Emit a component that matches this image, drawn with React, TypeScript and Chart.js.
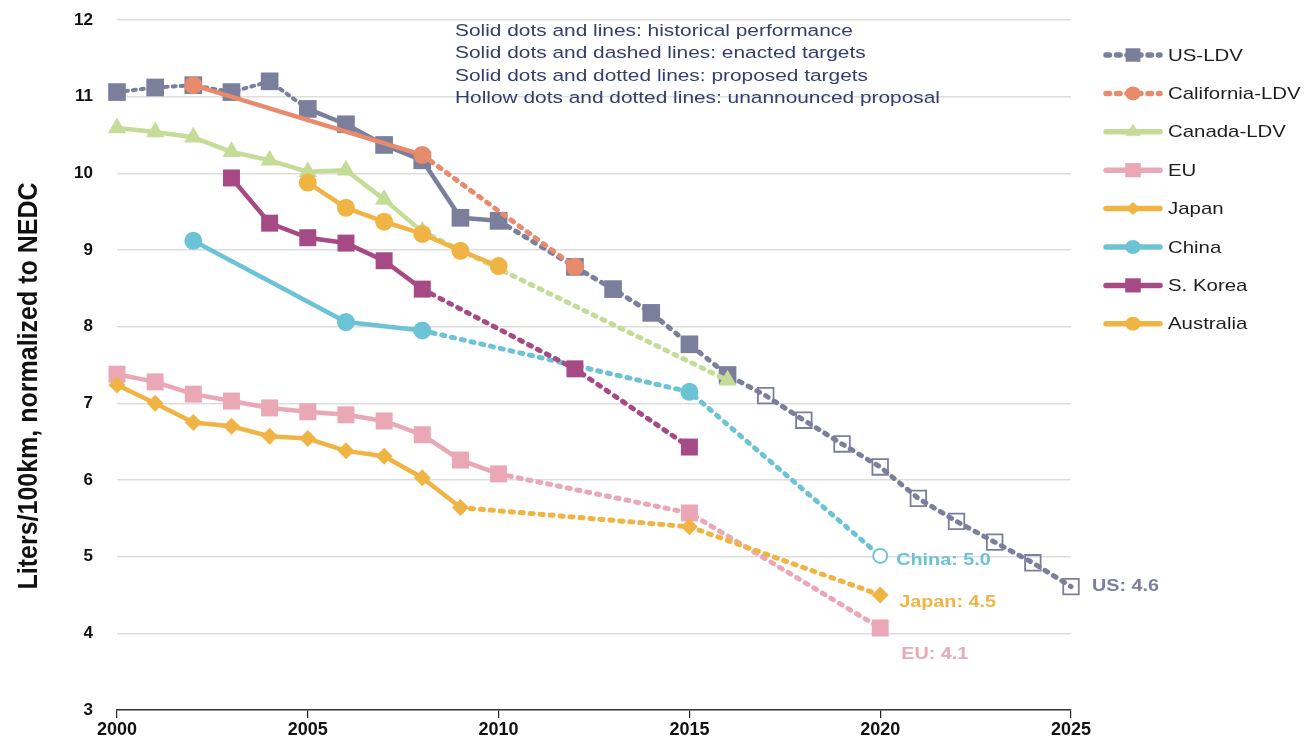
import React, { useEffect, useRef } from 'react';
import { Chart, registerables } from 'chart.js';

Chart.register(...registerables);

// ---------- data ----------
const usYears = [2000, 2001, 2002, 2003, 2004, 2005, 2006, 2007, 2008, 2009, 2010, 2012, 2013, 2014, 2015, 2016, 2017, 2018, 2019, 2020, 2021, 2022, 2023, 2024, 2025];
const usValues = [11.06, 11.12, 11.15, 11.06, 11.2, 10.84, 10.64, 10.37, 10.17, 9.42, 9.38, 8.78, 8.49, 8.18, 7.77, 7.37, 7.1, 6.78, 6.47, 6.17, 5.76, 5.46, 5.19, 4.92, 4.61];

const californiaYears = [2002, 2008, 2012];
const californiaValues = [11.15, 10.24, 8.78];

const canadaYears = [2000, 2001, 2002, 2003, 2004, 2005, 2006, 2007, 2008, 2016];
const canadaValues = [10.59, 10.54, 10.47, 10.28, 10.17, 10.02, 10.04, 9.66, 9.24, 7.3];

const euYears = [2000, 2001, 2002, 2003, 2004, 2005, 2006, 2007, 2008, 2009, 2010, 2015, 2020];
const euValues = [7.38, 7.28, 7.12, 7.03, 6.94, 6.89, 6.85, 6.77, 6.59, 6.26, 6.08, 5.57, 4.07];

const japanYears = [2000, 2001, 2002, 2003, 2004, 2005, 2006, 2007, 2008, 2009, 2015, 2020];
const japanValues = [7.24, 7.0, 6.75, 6.7, 6.57, 6.54, 6.38, 6.31, 6.03, 5.64, 5.39, 4.5];

const chinaYears = [2002, 2006, 2008, 2015, 2020];
const chinaValues = [9.12, 8.06, 7.95, 7.15, 5.01];

const koreaYears = [2003, 2004, 2005, 2006, 2007, 2008, 2012, 2015];
const koreaValues = [9.94, 9.35, 9.16, 9.09, 8.86, 8.49, 7.45, 6.43];

const australiaYears = [2005, 2006, 2007, 2008, 2009, 2010];
const australiaValues = [9.88, 9.55, 9.37, 9.21, 8.99, 8.79];

const xTicks = [2000, 2005, 2010, 2015, 2020, 2025];
const yTicks = [3, 4, 5, 6, 7, 8, 9, 10, 11, 12];

const annotationLines = [
  'Solid dots and lines: historical performance',
  'Solid dots and dashed lines: enacted targets',
  'Solid dots and dotted lines: proposed targets',
  'Hollow dots and dotted lines: unannounced proposal',
];

const endLabels = [
  { text: 'China: 5.0', year: 2020, value: 5.01, key: 'china' },
  { text: 'Japan: 4.5', year: 2020, value: 4.5, key: 'japan' },
  { text: 'EU: 4.1', year: 2020, value: 4.07, key: 'eu' },
  { text: 'US: 4.6', year: 2025, value: 4.61, key: 'us' },
];

const yTitle = 'Liters/100km, normalized to NEDC';

// ---------- styles ----------
const FONT = "'Liberation Sans', Arial, Helvetica, sans-serif";
const STRETCH = 1.2;

type Style = {
  label: string;
  color: string;
  point: string;
  radius: number;
  solid: [number, number][];
  hollowFrom?: number;
  hollowFill?: string;
  hollowRadius?: number;
  thinBefore?: number;
  legendDashed: boolean;
  order: number;
};

const styles: Record<string, Style> = {
  us: { label: 'US-LDV', color: '#7b7f9c', point: 'rect', radius: 12.5, solid: [[2005, 2010]], hollowFrom: 2017, hollowFill: 'rgba(255,255,255,0)', hollowRadius: 11, thinBefore: 2005, legendDashed: true, order: 7 },
  california: { label: 'California-LDV', color: '#e88a6c', point: 'circle', radius: 9, solid: [[2002, 2008]], legendDashed: true, order: 0 },
  canada: { label: 'Canada-LDV', color: '#c4dc97', point: 'triangle', radius: 10.5, solid: [[2000, 2008]], legendDashed: false, order: 6 },
  eu: { label: 'EU', color: '#eaa7b6', point: 'rect', radius: 12, solid: [[2000, 2010]], legendDashed: false, order: 5 },
  japan: { label: 'Japan', color: '#f0b444', point: 'rectRot', radius: 8.5, solid: [[2000, 2009]], legendDashed: false, order: 4 },
  china: { label: 'China', color: '#6cc3d5', point: 'circle', radius: 9, solid: [[2002, 2008]], hollowFrom: 2020, hollowFill: '#ffffff', hollowRadius: 7, legendDashed: false, order: 3 },
  korea: { label: 'S. Korea', color: '#a64a85', point: 'rect', radius: 12, solid: [[2003, 2008]], legendDashed: false, order: 2 },
  australia: { label: 'Australia', color: '#f0b444', point: 'circle', radius: 9, solid: [[2005, 2010]], legendDashed: false, order: 1 },
};

const series: { key: string; years: number[]; values: number[] }[] = [
  { key: 'us', years: usYears, values: usValues },
  { key: 'california', years: californiaYears, values: californiaValues },
  { key: 'canada', years: canadaYears, values: canadaValues },
  { key: 'eu', years: euYears, values: euValues },
  { key: 'japan', years: japanYears, values: japanValues },
  { key: 'china', years: chinaYears, values: chinaValues },
  { key: 'korea', years: koreaYears, values: koreaValues },
  { key: 'australia', years: australiaYears, values: australiaValues },
];

const DASH = [3, 7];

function buildDataset(s: { key: string; years: number[]; values: number[] }) {
  const st = styles[s.key];
  const isSolid = (a: number, b: number) => st.solid.some(([lo, hi]) => a >= lo && b <= hi);
  const isThin = (a: number) => st.thinBefore !== undefined && a < st.thinBefore;
  const hollow = (x: number) => st.hollowFrom !== undefined && x >= st.hollowFrom;
  return {
    label: st.label,
    order: st.order,
    clip: false,
    data: s.years.map((x, i) => ({ x, y: s.values[i] })),
    borderColor: st.color,
    borderWidth: 4.5,
    borderCapStyle: 'round',
    borderJoinStyle: 'round',
    tension: 0,
    fill: false,
    pointStyle: st.point,
    pointRadius: s.years.map((x) => (hollow(x) ? st.hollowRadius : st.radius)),
    pointHoverRadius: s.years.map((x) => (hollow(x) ? st.hollowRadius : st.radius)),
    pointBackgroundColor: s.years.map((x) => (hollow(x) ? st.hollowFill : st.color)),
    pointBorderColor: st.color,
    pointBorderWidth: s.years.map((x) => (hollow(x) ? 1.8 : 0)),
    segment: {
      borderDash: (ctx: any) => (isSolid(ctx.p0.parsed.x, ctx.p1.parsed.x) ? [] : isThin(ctx.p0.parsed.x) ? [3, 5] : DASH),
      borderWidth: (ctx: any) => (isThin(ctx.p0.parsed.x) ? 4 : isSolid(ctx.p0.parsed.x, ctx.p1.parsed.x) ? 4.5 : 5),
    },
  };
}

function drawMarker(ctx: CanvasRenderingContext2D, kind: string, x: number, y: number, r: number, color: string) {
  ctx.save();
  ctx.fillStyle = color;
  ctx.beginPath();
  if (kind === 'rect') {
    const s = r * Math.SQRT1_2;
    ctx.rect(x - s * 1.1, y - s, 2 * s * 1.1, 2 * s);
  } else if (kind === 'circle') {
    ctx.ellipse(x, y, r * 1.1, r, 0, 0, Math.PI * 2);
  } else if (kind === 'triangle') {
    ctx.moveTo(x, y - r);
    ctx.lineTo(x + r * 0.866 * 1.1, y + r / 2);
    ctx.lineTo(x - r * 0.866 * 1.1, y + r / 2);
    ctx.closePath();
  } else if (kind === 'rectRot') {
    ctx.moveTo(x, y - r);
    ctx.lineTo(x + r * 1.1, y);
    ctx.lineTo(x, y + r);
    ctx.lineTo(x - r * 1.1, y);
    ctx.closePath();
  }
  ctx.fill();
  ctx.restore();
}

function stretchedText(ctx: CanvasRenderingContext2D, text: string, x: number, y: number, font: string, color: string) {
  ctx.save();
  ctx.font = font;
  ctx.fillStyle = color;
  ctx.textBaseline = 'middle';
  ctx.textAlign = 'left';
  ctx.translate(x, y);
  ctx.scale(STRETCH, 1);
  ctx.fillText(text, 0, 0);
  ctx.restore();
}

const decorations = {
  id: 'decorations',
  afterDraw(chart: any) {
    const ctx: CanvasRenderingContext2D = chart.ctx;
    const xs = chart.scales.x;
    const ys = chart.scales.y;

    // annotation block
    annotationLines.forEach((t, i) => {
      stretchedText(ctx, t, 455, 31 + i * 22.5, `17.4px ${FONT}`, '#343e6c');
    });

    // legend
    const legendKeys = ['us', 'california', 'canada', 'eu', 'japan', 'china', 'korea', 'australia'];
    const legendScale: Record<string, number> = { us: 9.5, california: 7, canada: 8, eu: 10, japan: 6.5, china: 7, korea: 10, australia: 7 };
    legendKeys.forEach((k, i) => {
      const st = styles[k];
      const cy = 55 + i * 38.4;
      ctx.save();
      ctx.strokeStyle = st.color;
      ctx.lineWidth = 5.5;
      ctx.lineCap = 'round';
      ctx.setLineDash(st.legendDashed ? [3.5, 7] : []);
      ctx.beginPath();
      ctx.moveTo(1106, cy);
      ctx.lineTo(1160, cy);
      ctx.stroke();
      ctx.restore();
      drawMarker(ctx, st.point, 1133, cy, legendScale[k], st.color);
      stretchedText(ctx, st.label, 1168, cy + 1, `17px ${FONT}`, '#1e1e1e');
    });

    // end labels
    const offsets: Record<string, [number, number]> = { china: [16, 5], japan: [19, 7], eu: [21, 26], us: [21, 0] };
    endLabels.forEach((l) => {
      const px = xs.getPixelForValue(l.year);
      const py = ys.getPixelForValue(l.value);
      const [dx, dy] = offsets[l.key];
      stretchedText(ctx, l.text, px + dx, py + dy, `bold 16.5px ${FONT}`, styles[l.key].color);
    });

    // y title
    ctx.save();
    ctx.translate(29, 386);
    ctx.rotate(-Math.PI / 2);
    ctx.font = `bold 25px ${FONT}`;
    ctx.fillStyle = '#111111';
    ctx.textAlign = 'center';
    ctx.textBaseline = 'middle';
    ctx.scale(1, 1.1);
    ctx.fillText(yTitle, 0, 0);
    ctx.restore();
  },
};

export default function App() {
  const ref = useRef<HTMLCanvasElement>(null);

  useEffect(() => {
    if (!ref.current) return;
    const chart = new Chart(ref.current, {
      type: 'line',
      data: { datasets: series.map(buildDataset) as any },
      options: {
        animation: false,
        responsive: false,
        events: [],
        layout: { padding: { left: 0, top: 20, right: 234, bottom: 0 } },
        plugins: { legend: { display: false }, tooltip: { enabled: false }, title: { display: false } },
        scales: {
          x: {
            type: 'linear',
            min: 2000,
            max: 2025,
            afterBuildTicks: (scale: any) => {
              scale.ticks = xTicks.map((v) => ({ value: v }));
            },
            afterFit: (scale: any) => {
              scale.height = 37;
            },
            grid: { drawOnChartArea: false, drawTicks: true, tickLength: 8, color: '#222222', lineWidth: 1.2 },
            border: { display: true, color: '#333333', width: 1.6 },
            ticks: {
              padding: 1,
              color: '#111111',
              font: { family: FONT, size: 18, weight: 'bold' },
              callback: (v: any) => String(v),
              maxRotation: 0,
            },
          },
          y: {
            type: 'linear',
            min: 3,
            max: 12,
            afterBuildTicks: (scale: any) => {
              scale.ticks = yTicks.map((v) => ({ value: v }));
            },
            afterFit: (scale: any) => {
              scale.width = 117;
              scale.paddingTop = 10;
              scale.paddingBottom = 10;
            },
            grid: {
              drawTicks: false,
              color: (c: any) => (c.tick && c.tick.value === 3 ? 'rgba(0,0,0,0)' : '#dddddd'),
              lineWidth: 1.5,
            },
            border: { display: false },
            ticks: {
              padding: 24,
              color: '#111111',
              font: { family: FONT, size: 17, weight: 'bold' },
              callback: (v: any) => String(v),
            },
          },
        },
      },
      plugins: [decorations],
    } as any);
    return () => chart.destroy();
  }, []);

  return (
    <div style={{ position: 'fixed', left: 0, top: 0, width: 1305, height: 747, background: '#ffffff' }}>
      <canvas ref={ref} width={1305} height={747} style={{ display: 'block' }} />
    </div>
  );
}
